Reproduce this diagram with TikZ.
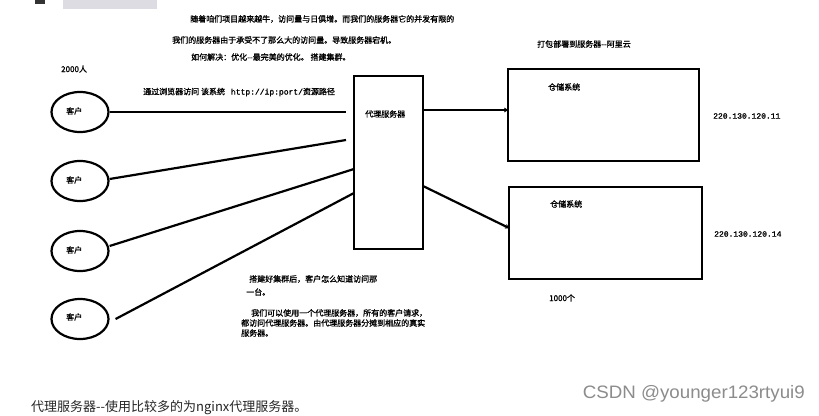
\documentclass[tikz,border=0pt]{standalone}
\usepackage{fontspec}
\newfontfamily\cjk{Noto Sans CJK SC}
\newfontfamily\cjkb{Noto Sans CJK SC}[FakeBold=1.2]
\newfontfamily\monof{Liberation Mono}[FakeBold=1.2]
\setsansfont{Liberation Sans}
\usetikzlibrary{shapes.geometric,arrows.meta}
\tikzset{
  ln/.style={line width=2.2pt,black},
  client/.style={ellipse,draw,line width=2.2pt,minimum width=57pt,minimum height=40pt,inner sep=0pt},
  boxnode/.style={rectangle,draw,line width=2.3pt,inner sep=0pt},
  txt/.style={font=\cjkb\fontsize{8}{10}\selectfont,inner sep=0pt,anchor=west},
  arr/.style={ln,-{Straight Barb[length=3pt,width=4pt,line width=0.8pt]}}
}
\begin{document}
\begin{tikzpicture}[x=1pt,y=-1pt]
\useasboundingbox[fill=white] (0,0) rectangle (819,415);
% cropped top strip
\fill[black!80] (35,0) rectangle (45,4);
\fill[blue!10!gray!25] (63,0) rectangle (157,9);

% header texts
\node[txt] (t1) at (190,19) {随着咱们项目越来越牛，访问量与日俱增。而我们的服务器它的并发有限的};
\node[txt] (t2) at (172,40) {我们的服务器由于承受不了那么大的访问量。导致服务器宕机。};
\node[txt] (t3) at (191,57) {如何解决：优化--最完美的优化。 搭建集群。};
\node[txt] (t4) at (61,69) {2000人};
\node[txt] (t5) at (537,44) {打包部署到服务器--阿里云};
\node[txt] (t6) at (143,92) {通过浏览器访问 该系统\hspace{6pt}{\monof http://ip:port/}资源路径};

% clients
\node[client] (c1) at (80,112) {};
\node[client] (c2) at (80,181) {};
\node[client] (c3) at (80,251) {};
\node[client] (c4) at (80,319) {};
\node[txt] (c1t) at (66,111) {客户};
\node[txt] (c2t) at (66,180) {客户};
\node[txt] (c3t) at (66,250) {客户};
\node[txt] (c4t) at (66,317) {客户};

% proxy
\node[boxnode,minimum width=69pt,minimum height=173pt] (proxy) at (388.5,162.5) {};
\node[txt] (pt) at (365,114) {代理服务器};

% storage
\node[boxnode,minimum width=191pt,minimum height=92pt] (s1) at (603.5,115) {};
\node[boxnode,minimum width=193pt,minimum height=92pt] (s2) at (605.5,233) {};
\node[txt] (s1t) at (548,87) {仓储系统};
\node[txt] (s2t) at (550,204) {仓储系统};
\node[txt,font=\monof\fontsize{8}{10}\selectfont] (ip1) at (713,116) {220.130.120.11};
\node[txt,font=\monof\fontsize{8}{10}\selectfont] (ip2) at (714,234) {220.130.120.14};

% connectors
\coordinate (p1) at (346,112);
\coordinate (p2) at (346,140);
\coordinate (p3) at (354,169);
\coordinate (p4) at (354,193);
\draw[ln] (c1.east) -- (p1);
\draw[ln] ([yshift=2pt]c2.east) -- (p2);
\draw[ln] ([yshift=5pt]c3.east) -- (p3);
\draw[ln] ([xshift=6pt]c4.east) -- (p4);

\coordinate (q1) at (423,110);
\coordinate (r1) at (508,110);
\coordinate (q2) at (423,186);
\coordinate (r2) at (509,228);
\draw[arr] (q1) -- (r1);
\draw[arr] (q2) -- (r2);

% lower texts
\node[txt] (b0) at (549,298) {1000个};
\node[txt] (b1) at (249,279) {搭建好集群后，客户怎么知道访问那};
\node[txt] (b2) at (246,292) {一台。};
\node[txt] (b3) at (251,313) {我们可以使用一个代理服务器，所有的客户请求，};
\node[txt] (b4) at (241,323) {都访问代理服务器。由代理服务器分摊到相应的真实};
\node[txt] (b5) at (241,333) {服务器。};

% page texts
\node[txt,font=\cjk\fontsize{13}{15}\selectfont,text=black!85] (bt) at (31,408) {代理服务器--使用比较多的为nginx代理服务器。};
\node[inner sep=0pt,anchor=east,text=black!45,font=\sffamily\fontsize{18}{20}\selectfont] (wm) at (805,394) {\scalebox{1.04}[1]{CSDN @younger123rtyui9}};
\end{tikzpicture}
\end{document}
